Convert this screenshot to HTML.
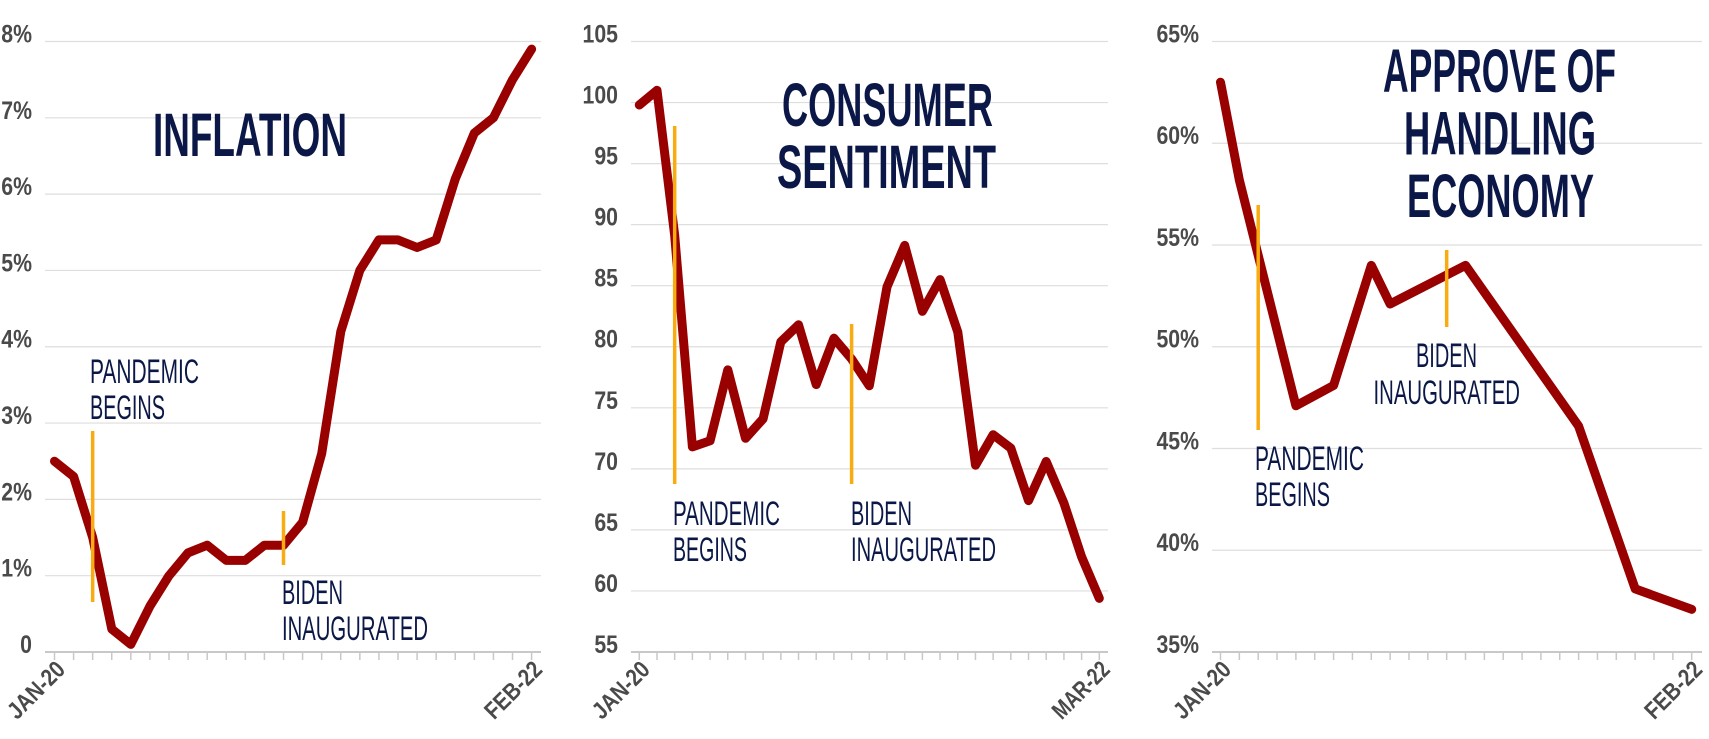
<!DOCTYPE html>
<html><head><meta charset="utf-8">
<style>
html,body{margin:0;padding:0;background:#fff;}
svg{display:block;}
text{font-family:"Liberation Sans",sans-serif;}
</style></head>
<body>
<svg id="chart" width="1709" height="739" viewBox="0 0 1709 739" xmlns="http://www.w3.org/2000/svg"></svg>
<script>
// ---- Inflation panel data ----
const inflationMonths = ["JAN-20","FEB-22"];
const inflationValues = [2.5,2.3,1.5,0.3,0.1,0.6,1.0,1.3,1.4,1.2,1.2,1.4,1.4,1.7,2.6,4.2,5.0,5.4,5.4,5.3,5.4,6.2,6.8,7.0,7.5,7.9];
const inflationTicks = [0,1,2,3,4,5,6,7,8];
const inflationTickLabels = ["0","1%","2%","3%","4%","5%","6%","7%","8%"];
// ---- Consumer sentiment data ----
const sentimentMonths = ["JAN-20","MAR-22"];
const sentimentValues = [99.8,101.0,89.1,71.8,72.3,78.1,72.5,74.1,80.4,81.8,76.9,80.7,79.0,76.8,84.9,88.3,82.9,85.5,81.2,70.3,72.8,71.7,67.4,70.6,67.2,62.8,59.4];
const sentimentTicks = [55,60,65,70,75,80,85,90,95,100,105];
const sentimentTickLabels = ["55","60","65","70","75","80","85","90","95","100","105"];
// ---- Approval data ----
const approvalMonths = ["JAN-20","FEB-22"];
const approvalIndex = [0,1,4,6,8,9,13,19,22,25];
const approvalValues = [63.0,58.2,47.1,48.1,54.0,52.1,54.0,46.1,38.1,37.1];
const approvalTicks = [35,40,45,50,55,60,65];
const approvalTickLabels = ["35%","40%","45%","50%","55%","60%","65%"];

const NS="http://www.w3.org/2000/svg";
const svg=document.getElementById('chart');
function mk(tag,attrs,parent){const e=document.createElementNS(NS,tag);for(const k in attrs)e.setAttribute(k,attrs[k]);(parent||svg).appendChild(e);return e;}
function txt(s,attrs,parent){const t=mk('text',attrs,parent);t.textContent=s;return t;}

const panels=[
 {key:'inflation',gx0:45,gx1:541,tx0:54.5,tx1:531.6,n:26,vmin:0,vmax:8,labelX:32,
  ticks:inflationTicks,tickLabels:inflationTickLabels,months:inflationMonths,
  idx:inflationValues.map((v,i)=>i),vals:inflationValues,
  titles:[{s:"INFLATION",x:153,y:156,w:194}],
  pand:{i:2,y0:431,y1:602},bid:{i:12,y0:511,y1:565},
  notes:[{s:"PANDEMIC",x:90,y:383,w:109},{s:"BEGINS",x:90,y:419,w:75},{s:"BIDEN",x:282,y:604,w:61},{s:"INAUGURATED",x:282,y:640,w:146}]},
 {key:'sentiment',gx0:631,gx1:1108,tx0:639.3,tx1:1099.3,n:27,vmin:55,vmax:105,labelX:618,
  ticks:sentimentTicks,tickLabels:sentimentTickLabels,months:sentimentMonths,
  idx:sentimentValues.map((v,i)=>i),vals:sentimentValues,
  titles:[{s:"CONSUMER",x:782,y:126,w:211},{s:"SENTIMENT",x:777,y:188,w:219}],
  pand:{i:2,y0:126,y1:484},bid:{i:12,y0:324,y1:484},
  notes:[{s:"PANDEMIC",x:673,y:525,w:107},{s:"BEGINS",x:673,y:561,w:74},{s:"BIDEN",x:851,y:525,w:61},{s:"INAUGURATED",x:851,y:561,w:145}]},
 {key:'approval',gx0:1212,gx1:1702,tx0:1220.5,tx1:1691.7,n:26,vmin:35,vmax:65,labelX:1199,
  ticks:approvalTicks,tickLabels:approvalTickLabels,months:approvalMonths,
  idx:approvalIndex,vals:approvalValues,
  titles:[{s:"APPROVE OF",x:1383,y:92,w:233},{s:"HANDLING",x:1404,y:154.6,w:192},{s:"ECONOMY",x:1407,y:217,w:187}],
  pand:{i:2,y0:205,y1:430},bid:{i:12,y0:250,y1:327},
  notes:[{s:"PANDEMIC",x:1255,y:470,w:109},{s:"BEGINS",x:1255,y:506,w:75},{s:"BIDEN",x:1416,y:367,w:61},{s:"INAUGURATED",x:1373.5,y:404,w:146.5}]}
];
const YT=41.5, YB=652;

panels.forEach(p=>{
  const g=mk('g',{});
  
  
  const xs=i=>p.tx0+(p.tx1-p.tx0)*i/(p.n-1);
  const ys=v=>YB-(v-p.vmin)/(p.vmax-p.vmin)*(YB-YT);
  p.ticks.forEach((t,k)=>{
    const y=ys(t);
    const ln=mk('line',{x1:p.gx0,x2:p.gx1,y1:y,y2:y,stroke:k===0?'#c8c8c8':'#dedede','stroke-width':k===0?2:1.2},g);
    
    
    const lb=txt(p.tickLabels[k],{x:p.labelX,y:y+1,'text-anchor':'end','font-size':25,'font-weight':'bold',fill:'#4a4a4a',transform:`translate(${p.labelX},0) scale(0.85,1) translate(${-p.labelX},0)`},g);
    
    
  });
  for(let i=0;i<p.n;i++){
    const x=xs(i);
    const tk=mk('line',{x1:x,x2:x,y1:YB,y2:YB+8,stroke:'#c8c8c8','stroke-width':1.5},g);
    
    
  }
  [[0,p.months[0]],[p.n-1,p.months[1]]].forEach(([i,s])=>{
    const x=xs(i)+12, y=671;
    const t=txt(s,{x:x,y:y,'text-anchor':'end','font-size':24,'font-weight':'bold',fill:'#4a4a4a',textLength:70,lengthAdjust:'spacingAndGlyphs',transform:`rotate(-45 ${x} ${y})`},g);
    
    
  });
  p.titles.forEach(tt=>{
    const t=txt(tt.s,{x:tt.x,y:tt.y,'font-size':61,'font-weight':'bold',fill:'#0b1847',textLength:tt.w,lengthAdjust:'spacingAndGlyphs'},g);
    
    
  });
  const pts=p.idx.map((i,k)=>xs(i).toFixed(1)+','+ys(p.vals[k]).toFixed(1)).join(' ');
  const pl=mk('polyline',{points:pts,fill:'none',stroke:'#990000','stroke-width':9,'stroke-linejoin':'round','stroke-linecap':'round'},g);
  
  
  [p.pand,p.bid].forEach((m,k)=>{
    const x=xs(m.i);
    const l=mk('line',{x1:x,x2:x,y1:m.y0,y2:m.y1,stroke:'#f8ac12','stroke-width':3.5},g);
    
    
  });
  p.notes.forEach(nn=>{
    const t=txt(nn.s,{x:nn.x,y:nn.y,'font-size':34,fill:'#0b1847',textLength:nn.w,lengthAdjust:'spacingAndGlyphs'},g);
    
    
  });
});
</script>
</body></html>
